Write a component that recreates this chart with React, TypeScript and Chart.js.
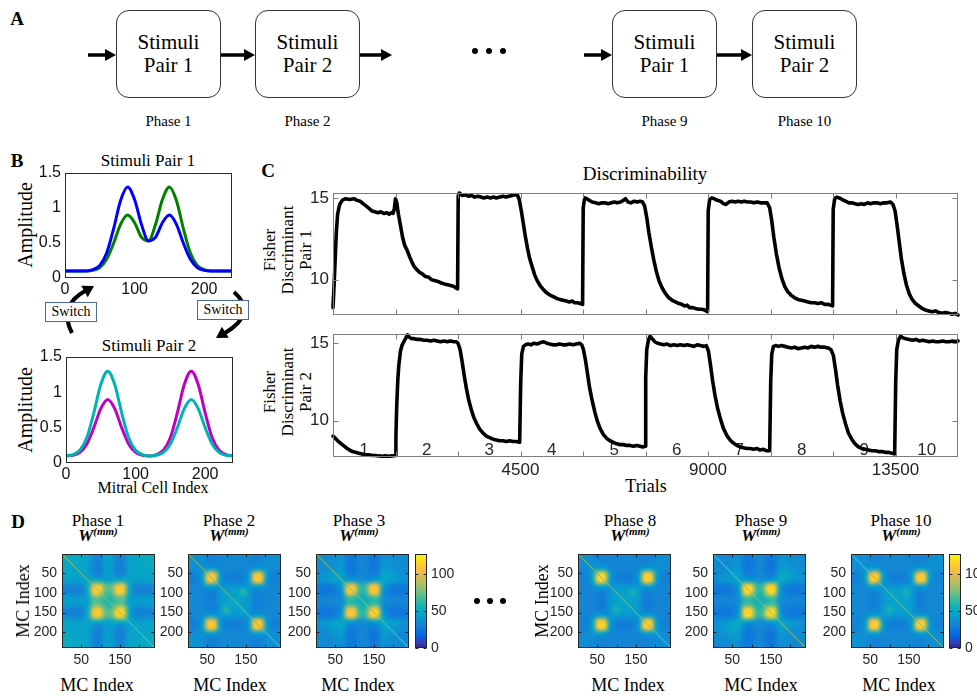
import React, { useEffect, useRef } from "react";
import { Chart, registerables } from "chart.js";

Chart.register(...registerables);

const SERIF = '"Liberation Serif", "Times New Roman", serif';
const SANS = '"Liberation Sans", Arial, sans-serif';

/* ---------------- B: stimulus amplitude profiles ---------------- */
const cellIndex = [0, 10, 20, 30, 40, 50, 60, 70, 80, 90, 100, 110, 120, 130, 140, 150, 160, 170, 180, 190, 200, 210, 220, 230, 240];
const pair1OdorA = [0.1, 0.1, 0.1, 0.1, 0.12, 0.18, 0.36, 0.71, 1.11, 1.3, 1.12, 0.76, 0.53, 0.58, 0.79, 0.9, 0.77, 0.5, 0.27, 0.15, 0.11, 0.1, 0.1, 0.1, 0.1];
const pair1OdorB = [0.1, 0.1, 0.1, 0.1, 0.11, 0.15, 0.27, 0.5, 0.77, 0.9, 0.79, 0.58, 0.53, 0.76, 1.12, 1.3, 1.11, 0.71, 0.36, 0.18, 0.12, 0.1, 0.1, 0.1, 0.1];
const pair2OdorA = [0.1, 0.12, 0.18, 0.36, 0.71, 1.11, 1.3, 1.11, 0.71, 0.36, 0.18, 0.12, 0.1, 0.11, 0.15, 0.27, 0.5, 0.77, 0.9, 0.77, 0.5, 0.27, 0.15, 0.11, 0.1];
const pair2OdorB = [0.1, 0.11, 0.15, 0.27, 0.5, 0.77, 0.9, 0.77, 0.5, 0.27, 0.15, 0.11, 0.1, 0.12, 0.18, 0.36, 0.71, 1.11, 1.3, 1.11, 0.71, 0.36, 0.18, 0.12, 0.1];
const amplitudeTicks = [0, 0.5, 1, 1.5];
const cellTicks = [0, 100, 200];

/* ---------------- C: Fisher discriminant over trials ---------------- */
const pair1Curve = [
  [0, 8.3], [25, 9.6], [55, 11.4], [80, 12.9], [110, 14.0], [160, 14.6], [220, 14.85], [300, 14.95], [400, 14.9], [500, 14.95],
  [580, 14.85], [650, 14.8], [720, 14.65], [800, 14.5], [870, 14.35], [940, 14.2], [1000, 14.15], [1080, 14.1], [1150, 14.15], [1220, 14.05],
  [1290, 14.1], [1350, 14.0], [1400, 14.1], [1440, 14.05], [1470, 14.3], [1500, 14.95], [1530, 14.7], [1570, 14.0], [1620, 13.3], [1670, 12.6],
  [1720, 12.1], [1780, 11.8], [1840, 11.4], [1890, 11.1], [1950, 10.8], [2000, 10.65], [2080, 10.45], [2150, 10.35], [2220, 10.2], [2300, 10.15],
  [2370, 10.0], [2440, 9.95], [2520, 9.9], [2600, 9.8], [2670, 9.75], [2750, 9.7], [2820, 9.65], [2890, 9.6], [2950, 9.5], [2990, 9.45],
  [3005, 15.1], [3030, 15.3], [3100, 15.15], [3180, 15.2], [3250, 15.1], [3330, 15.15], [3400, 15.05], [3480, 15.1], [3550, 15.05], [3620, 15.0],
  [3700, 15.05], [3780, 15.0], [3850, 15.05], [3920, 15.0], [4000, 15.05], [4080, 15.1], [4150, 15.05], [4220, 15.1], [4300, 15.15], [4370, 15.2],
  [4430, 15.15], [4470, 14.9], [4520, 14.2], [4570, 13.4], [4620, 12.6], [4670, 11.9], [4720, 11.3], [4780, 10.8], [4840, 10.3], [4900, 9.95],
  [4970, 9.65], [5050, 9.4], [5130, 9.2], [5220, 9.05], [5300, 8.95], [5380, 8.85], [5450, 8.8], [5520, 8.75], [5600, 8.7], [5670, 8.65],
  [5740, 8.7], [5800, 8.6], [5870, 8.6], [5930, 8.55], [5990, 8.5], [6005, 14.4], [6040, 15.0], [6090, 14.95], [6150, 14.85], [6220, 14.75],
  [6300, 14.7], [6380, 14.65], [6450, 14.7], [6530, 14.7], [6600, 14.65], [6680, 14.7], [6750, 14.75], [6820, 14.7], [6900, 14.75], [6970, 14.85],
  [7020, 14.95], [7080, 14.75], [7150, 14.7], [7230, 14.8], [7300, 14.75], [7370, 14.8], [7430, 14.75], [7480, 14.5], [7530, 13.8], [7580, 12.9],
  [7640, 12.0], [7700, 11.2], [7760, 10.5], [7830, 9.9], [7900, 9.5], [7980, 9.15], [8060, 8.9], [8140, 8.75], [8220, 8.65], [8300, 8.55],
  [8370, 8.5], [8440, 8.4], [8500, 8.45], [8560, 8.3], [8630, 8.3], [8700, 8.25], [8780, 8.2], [8850, 8.2], [8920, 8.15], [8990, 8.05],
  [9005, 14.2], [9040, 14.9], [9090, 15.0], [9150, 14.95], [9220, 14.85], [9300, 14.8], [9370, 14.65], [9430, 14.6], [9500, 14.75], [9580, 14.8],
  [9650, 14.75], [9720, 14.8], [9800, 14.75], [9870, 14.8], [9950, 14.75], [10030, 14.75], [10100, 14.7], [10180, 14.75], [10260, 14.7], [10340, 14.7],
  [10420, 14.7], [10480, 14.4], [10530, 13.6], [10580, 12.6], [10640, 11.6], [10700, 10.8], [10770, 10.1], [10840, 9.6], [10920, 9.25], [11000, 9.05],
  [11080, 8.9], [11160, 8.8], [11240, 8.75], [11320, 8.7], [11400, 8.65], [11480, 8.6], [11560, 8.6], [11640, 8.55], [11720, 8.6], [11800, 8.5],
  [11880, 8.5], [11950, 8.45], [11990, 8.4], [12005, 14.3], [12040, 14.95], [12090, 15.05], [12150, 15.0], [12220, 14.9], [12300, 14.8], [12380, 14.7],
  [12450, 14.7], [12530, 14.65], [12600, 14.6], [12680, 14.65], [12750, 14.6], [12830, 14.7], [12900, 14.65], [12980, 14.7], [13060, 14.7], [13140, 14.65],
  [13220, 14.7], [13300, 14.7], [13380, 14.75], [13440, 14.6], [13490, 14.2], [13540, 13.3], [13590, 12.3], [13640, 11.3], [13700, 10.4], [13760, 9.7],
  [13830, 9.15], [13900, 8.8], [13980, 8.55], [14060, 8.4], [14140, 8.25], [14220, 8.15], [14300, 8.1], [14380, 8.05], [14460, 8.1], [14540, 8.0],
  [14620, 7.95], [14700, 8.0], [14780, 7.95], [14860, 7.9], [14930, 7.95], [15000, 7.85],
];

const pair2Curve = [
  [0, 9.0], [60, 8.85], [130, 8.65], [200, 8.5], [270, 8.35], [340, 8.2], [400, 8.1], [470, 8.0], [540, 7.95], [620, 7.9],
  [700, 7.85], [780, 7.8], [860, 7.8], [940, 7.75], [1020, 7.75], [1100, 7.72], [1180, 7.7], [1260, 7.72], [1340, 7.7], [1420, 7.72],
  [1490, 7.75], [1510, 9.0], [1530, 11.0], [1555, 12.6], [1580, 13.6], [1620, 14.5], [1660, 14.9], [1700, 15.1], [1750, 15.35], [1790, 15.55],
  [1830, 15.4], [1880, 15.3], [1950, 15.3], [2020, 15.25], [2100, 15.25], [2180, 15.2], [2260, 15.2], [2340, 15.15], [2420, 15.2], [2500, 15.15],
  [2580, 15.1], [2660, 15.15], [2740, 15.1], [2820, 15.15], [2900, 15.1], [2960, 15.1], [3000, 15.0], [3050, 14.6], [3100, 13.8], [3150, 12.9],
  [3200, 12.1], [3260, 11.3], [3320, 10.7], [3380, 10.2], [3450, 9.8], [3520, 9.45], [3600, 9.2], [3680, 9.0], [3760, 8.9], [3840, 8.8],
  [3920, 8.75], [4000, 8.7], [4080, 8.7], [4160, 8.65], [4240, 8.7], [4320, 8.65], [4400, 8.65], [4480, 8.6], [4505, 12.5], [4530, 14.3],
  [4570, 14.8], [4620, 14.9], [4680, 14.95], [4750, 14.9], [4820, 15.0], [4900, 14.95], [4980, 15.05], [5060, 15.1], [5130, 15.0], [5200, 14.95],
  [5280, 14.9], [5360, 14.9], [5440, 14.95], [5520, 14.9], [5600, 14.9], [5680, 14.95], [5760, 14.9], [5840, 14.95], [5920, 15.0], [5970, 14.9],
  [6010, 14.6], [6060, 13.9], [6110, 13.0], [6160, 12.1], [6220, 11.3], [6280, 10.6], [6340, 10.0], [6410, 9.5], [6490, 9.1], [6570, 8.85],
  [6650, 8.7], [6730, 8.6], [6810, 8.5], [6890, 8.45], [6970, 8.45], [7050, 8.4], [7130, 8.4], [7210, 8.35], [7290, 8.4], [7370, 8.35],
  [7440, 8.3], [7490, 8.35], [7505, 12.8], [7530, 14.6], [7570, 15.2], [7610, 15.45], [7660, 15.3], [7720, 15.1], [7790, 15.0], [7860, 14.95],
  [7940, 14.9], [8020, 14.95], [8100, 14.85], [8180, 14.9], [8260, 14.85], [8340, 14.9], [8420, 14.85], [8500, 14.9], [8580, 14.85], [8660, 14.8],
  [8740, 14.9], [8820, 14.85], [8900, 14.8], [8960, 14.85], [9010, 14.5], [9060, 13.6], [9110, 12.6], [9170, 11.6], [9230, 10.8], [9300, 10.1],
  [9370, 9.5], [9450, 9.05], [9530, 8.75], [9610, 8.55], [9690, 8.4], [9770, 8.3], [9850, 8.25], [9930, 8.2], [10010, 8.2], [10090, 8.15],
  [10170, 8.2], [10250, 8.1], [10330, 8.15], [10410, 8.05], [10480, 8.05], [10505, 12.5], [10530, 14.3], [10570, 14.8], [10620, 14.85], [10690, 14.8],
  [10760, 14.85], [10840, 14.8], [10920, 14.75], [11000, 14.7], [11080, 14.75], [11160, 14.65], [11240, 14.7], [11320, 14.75], [11400, 14.7], [11480, 14.8],
  [11560, 14.75], [11640, 14.8], [11720, 14.75], [11800, 14.75], [11880, 14.7], [11950, 14.6], [12010, 14.2], [12060, 13.3], [12110, 12.3], [12170, 11.3],
  [12230, 10.5], [12300, 9.8], [12370, 9.2], [12450, 8.8], [12530, 8.5], [12610, 8.3], [12690, 8.2], [12770, 8.15], [12850, 8.1], [12930, 8.05],
  [13010, 8.05], [13090, 8.0], [13170, 8.0], [13250, 7.95], [13330, 7.95], [13410, 7.9], [13480, 7.85], [13505, 12.5], [13530, 14.6], [13570, 15.2],
  [13620, 15.45], [13680, 15.35], [13750, 15.3], [13830, 15.25], [13910, 15.2], [13990, 15.25], [14070, 15.15], [14150, 15.2], [14230, 15.15], [14310, 15.1],
  [14390, 15.15], [14470, 15.1], [14550, 15.1], [14630, 15.15], [14710, 15.1], [14790, 15.1], [14870, 15.15], [14940, 15.1], [15000, 15.15],
];

const phaseBoundaries = [1500, 3000, 4500, 6000, 7500, 9000, 10500, 12000, 13500];
const trialTicks = [4500, 9000, 13500];
const fisherTicks = [10, 15];
const phaseNumbers = [1, 2, 3, 4, 5, 6, 7, 8, 9, 10];
const TRIALS_PER_PHASE = 1500;

/* ---------------- D: mitral-mitral weight matrices (16 x 16 blocks of 15 cells) ---------------- */
const W_PHASE1 = [
  [52, 50, 49, 48, 46, 33, 32, 44, 44, 32, 33, 46, 48, 49, 50, 52],
  [50, 50, 48, 47, 45, 32, 31, 43, 43, 31, 32, 45, 47, 48, 50, 50],
  [49, 48, 47, 46, 44, 31, 30, 42, 42, 30, 31, 44, 46, 47, 48, 49],
  [48, 47, 46, 46, 45, 33, 32, 42, 42, 32, 33, 45, 46, 46, 47, 48],
  [46, 45, 44, 45, 47, 54, 52, 47, 47, 52, 54, 47, 45, 44, 45, 46],
  [33, 32, 31, 33, 54, 108, 112, 72, 72, 108, 110, 54, 33, 31, 32, 33],
  [32, 31, 30, 32, 52, 112, 110, 70, 70, 110, 112, 52, 32, 30, 31, 32],
  [44, 43, 42, 42, 47, 72, 70, 60, 60, 70, 72, 47, 42, 42, 43, 44],
  [44, 43, 42, 42, 47, 72, 70, 60, 60, 70, 72, 47, 42, 42, 43, 44],
  [32, 31, 30, 32, 52, 108, 110, 70, 70, 112, 114, 52, 32, 30, 31, 32],
  [33, 32, 31, 33, 54, 110, 112, 72, 72, 114, 116, 54, 33, 31, 32, 33],
  [46, 45, 44, 45, 47, 54, 52, 47, 47, 52, 54, 47, 45, 44, 45, 46],
  [48, 47, 46, 46, 45, 33, 32, 42, 42, 32, 33, 45, 46, 46, 47, 48],
  [49, 48, 47, 46, 44, 31, 30, 42, 42, 30, 31, 44, 46, 47, 48, 49],
  [50, 50, 48, 47, 45, 32, 31, 43, 43, 31, 32, 45, 47, 48, 50, 50],
  [52, 50, 49, 48, 46, 33, 32, 44, 44, 32, 33, 46, 48, 49, 50, 52],
];
const W_PHASE2 = [
  [38, 37, 36, 30, 29, 33, 34, 34, 34, 34, 33, 29, 30, 36, 37, 38],
  [37, 37, 36, 31, 30, 33, 33, 33, 33, 33, 33, 30, 31, 36, 37, 37],
  [36, 36, 38, 44, 42, 35, 33, 33, 33, 33, 35, 42, 44, 38, 36, 36],
  [30, 31, 44, 106, 110, 44, 30, 29, 29, 30, 44, 106, 108, 44, 31, 30],
  [29, 30, 42, 110, 108, 42, 30, 29, 29, 30, 42, 108, 110, 42, 30, 29],
  [33, 33, 35, 44, 42, 40, 40, 40, 40, 40, 40, 42, 44, 35, 33, 33],
  [34, 33, 33, 30, 30, 40, 46, 44, 46, 62, 42, 30, 30, 33, 33, 34],
  [34, 33, 33, 29, 29, 40, 44, 48, 46, 46, 40, 29, 29, 33, 33, 34],
  [34, 33, 33, 29, 29, 40, 46, 46, 48, 44, 40, 29, 29, 33, 33, 34],
  [34, 33, 33, 30, 30, 40, 62, 46, 44, 46, 40, 30, 30, 33, 33, 34],
  [33, 33, 35, 44, 42, 40, 42, 40, 40, 40, 40, 42, 44, 35, 33, 33],
  [29, 30, 42, 106, 108, 42, 30, 29, 29, 30, 42, 108, 110, 42, 30, 29],
  [30, 31, 44, 108, 110, 44, 30, 29, 29, 30, 44, 110, 108, 44, 31, 30],
  [36, 36, 38, 44, 42, 35, 33, 33, 33, 33, 35, 42, 44, 38, 36, 36],
  [37, 37, 36, 31, 30, 33, 33, 33, 33, 33, 33, 30, 31, 36, 37, 37],
  [38, 37, 36, 30, 29, 33, 34, 34, 34, 34, 33, 29, 30, 36, 37, 38],
];
const W_PHASE3 = [
  [36, 35, 34, 36, 37, 27, 26, 33, 33, 26, 27, 37, 36, 34, 35, 36],
  [35, 36, 35, 38, 39, 26, 25, 32, 32, 25, 26, 39, 38, 35, 36, 35],
  [34, 35, 37, 41, 42, 26, 25, 32, 32, 25, 26, 42, 41, 37, 35, 34],
  [36, 38, 41, 45, 45, 30, 28, 33, 33, 28, 30, 45, 46, 41, 38, 36],
  [37, 39, 42, 45, 48, 46, 40, 36, 36, 40, 46, 48, 46, 42, 39, 37],
  [27, 26, 26, 30, 46, 106, 110, 64, 64, 106, 108, 46, 30, 26, 26, 27],
  [26, 25, 25, 28, 40, 110, 108, 62, 62, 108, 110, 40, 28, 25, 25, 26],
  [33, 32, 32, 33, 36, 64, 62, 54, 54, 62, 64, 36, 33, 32, 32, 33],
  [33, 32, 32, 33, 36, 64, 62, 54, 54, 62, 64, 36, 33, 32, 32, 33],
  [26, 25, 25, 28, 40, 106, 108, 62, 62, 110, 112, 40, 28, 25, 25, 26],
  [27, 26, 26, 30, 46, 108, 110, 64, 64, 112, 114, 46, 30, 26, 26, 27],
  [37, 39, 42, 45, 48, 46, 40, 36, 36, 40, 46, 48, 45, 42, 39, 37],
  [36, 38, 41, 46, 46, 30, 28, 33, 33, 28, 30, 45, 45, 41, 38, 36],
  [34, 35, 37, 41, 42, 26, 25, 32, 32, 25, 26, 42, 41, 37, 35, 34],
  [35, 36, 35, 38, 39, 26, 25, 32, 32, 25, 26, 39, 38, 35, 36, 35],
  [36, 35, 34, 36, 37, 27, 26, 33, 33, 26, 27, 37, 36, 34, 35, 36],
];
const W_PHASE8 = [
  [37, 36, 35, 30, 29, 32, 33, 33, 33, 33, 32, 29, 30, 35, 36, 37],
  [36, 36, 36, 32, 31, 32, 32, 32, 32, 32, 32, 31, 32, 36, 36, 36],
  [35, 36, 40, 48, 45, 35, 32, 32, 32, 32, 35, 45, 46, 38, 36, 35],
  [30, 32, 48, 112, 116, 46, 30, 28, 28, 30, 44, 110, 112, 44, 32, 30],
  [29, 31, 45, 116, 112, 44, 30, 28, 28, 30, 42, 112, 114, 42, 31, 29],
  [32, 32, 35, 46, 44, 40, 40, 40, 40, 40, 40, 42, 44, 35, 32, 32],
  [33, 32, 32, 30, 30, 40, 46, 44, 46, 58, 42, 30, 30, 32, 32, 33],
  [33, 32, 32, 28, 28, 40, 44, 48, 46, 46, 40, 28, 28, 32, 32, 33],
  [33, 32, 32, 28, 28, 40, 46, 46, 48, 44, 40, 28, 28, 32, 32, 33],
  [33, 32, 32, 30, 30, 40, 58, 46, 44, 46, 40, 30, 30, 32, 32, 33],
  [32, 32, 35, 44, 42, 40, 42, 40, 40, 40, 40, 42, 44, 35, 32, 32],
  [29, 31, 45, 110, 112, 42, 30, 28, 28, 30, 42, 110, 112, 42, 31, 29],
  [30, 32, 46, 112, 114, 44, 30, 28, 28, 30, 44, 112, 110, 44, 32, 30],
  [35, 36, 38, 44, 42, 35, 32, 32, 32, 32, 35, 42, 44, 38, 36, 35],
  [36, 36, 36, 32, 31, 32, 32, 32, 32, 32, 32, 31, 32, 36, 36, 36],
  [37, 36, 35, 30, 29, 32, 33, 33, 33, 33, 32, 29, 30, 35, 36, 37],
];
const W_PHASE9 = [
  [35, 34, 34, 35, 36, 27, 26, 33, 33, 26, 27, 36, 37, 35, 34, 35],
  [34, 35, 35, 37, 38, 26, 25, 32, 32, 25, 26, 38, 40, 37, 35, 34],
  [34, 35, 37, 40, 41, 26, 25, 32, 32, 25, 26, 41, 44, 40, 37, 34],
  [35, 37, 40, 44, 44, 30, 28, 33, 33, 28, 30, 46, 50, 44, 40, 37],
  [36, 38, 41, 44, 47, 47, 41, 37, 37, 41, 47, 50, 46, 41, 38, 36],
  [27, 26, 26, 30, 47, 112, 116, 66, 66, 112, 114, 47, 30, 26, 26, 27],
  [26, 25, 25, 28, 41, 116, 114, 64, 64, 114, 116, 41, 28, 25, 25, 26],
  [33, 32, 32, 33, 37, 66, 64, 56, 56, 64, 66, 37, 33, 32, 32, 33],
  [33, 32, 32, 33, 37, 66, 64, 56, 56, 64, 66, 37, 33, 32, 32, 33],
  [26, 25, 25, 28, 41, 112, 114, 64, 64, 114, 116, 41, 28, 25, 25, 26],
  [27, 26, 26, 30, 47, 114, 116, 66, 66, 116, 118, 47, 30, 26, 26, 27],
  [36, 38, 41, 46, 50, 47, 41, 37, 37, 41, 47, 47, 44, 41, 38, 36],
  [37, 40, 44, 50, 46, 30, 28, 33, 33, 28, 30, 44, 44, 40, 37, 35],
  [35, 37, 40, 44, 41, 26, 25, 32, 32, 25, 26, 41, 40, 37, 35, 34],
  [34, 35, 37, 40, 38, 26, 25, 32, 32, 25, 26, 38, 37, 35, 35, 34],
  [35, 34, 34, 37, 36, 27, 26, 33, 33, 26, 27, 36, 35, 34, 34, 35],
];
const W_PHASE10 = [
  [38, 37, 36, 31, 30, 33, 34, 34, 34, 34, 33, 30, 31, 36, 37, 38],
  [37, 37, 36, 32, 31, 33, 33, 33, 33, 33, 33, 31, 32, 36, 37, 37],
  [36, 36, 39, 45, 43, 35, 33, 33, 33, 33, 35, 43, 45, 39, 36, 36],
  [31, 32, 45, 108, 112, 45, 31, 29, 29, 31, 45, 108, 110, 45, 32, 31],
  [30, 31, 43, 112, 108, 43, 31, 29, 29, 31, 43, 110, 112, 43, 31, 30],
  [33, 33, 35, 45, 43, 41, 41, 40, 40, 41, 41, 43, 45, 35, 33, 33],
  [34, 33, 33, 31, 31, 41, 46, 45, 47, 58, 43, 31, 31, 33, 33, 34],
  [34, 33, 33, 29, 29, 40, 45, 48, 46, 47, 40, 29, 29, 33, 33, 34],
  [34, 33, 33, 29, 29, 40, 47, 46, 48, 45, 40, 29, 29, 33, 33, 34],
  [34, 33, 33, 31, 31, 41, 58, 47, 45, 46, 41, 31, 31, 33, 33, 34],
  [33, 33, 35, 45, 43, 41, 43, 40, 40, 41, 41, 43, 45, 35, 33, 33],
  [30, 31, 43, 108, 110, 43, 31, 29, 29, 31, 43, 110, 112, 43, 31, 30],
  [31, 32, 45, 110, 112, 45, 31, 29, 29, 31, 45, 112, 110, 45, 32, 31],
  [36, 36, 39, 45, 43, 35, 33, 33, 33, 33, 35, 43, 45, 39, 36, 36],
  [37, 37, 36, 32, 31, 33, 33, 33, 33, 33, 33, 31, 32, 36, 37, 37],
  [38, 37, 36, 31, 30, 33, 34, 34, 34, 34, 33, 30, 31, 36, 37, 38],
];
const weightPhases = [1, 2, 3, 8, 9, 10];
const weightMatrices = [W_PHASE1, W_PHASE2, W_PHASE3, W_PHASE8, W_PHASE9, W_PHASE10];
const selfWeights = [80, 78, 80, 78, 80, 78];
const mcTicks = [50, 100, 150, 200];
const mcLabelsX = [50, 150];
const colorTicks = [0, 50, 100];
const N_CELLS = 240;
const CMAX = 127;

/* ---------------- parula colormap ---------------- */
const PARULA_STOPS = [0, 4, 8, 12, 16, 20, 24, 28, 32, 36, 40, 44, 48, 52, 56, 60, 63];
const PARULA_RGB = [
  [53, 42, 135], [50, 67, 186], [3, 99, 225], [13, 117, 220], [20, 133, 212], [9, 152, 209],
  [6, 167, 198], [21, 177, 180], [56, 185, 158], [101, 190, 134], [146, 191, 115], [183, 189, 100],
  [217, 186, 86], [248, 187, 68], [252, 206, 46], [245, 228, 29], [249, 251, 14],
];
function parula(t: number): number[] {
  const p = Math.max(0, Math.min(1, t)) * 63;
  let k = 0;
  while (k < PARULA_STOPS.length - 2 && p > PARULA_STOPS[k + 1]) k++;
  const f = (p - PARULA_STOPS[k]) / (PARULA_STOPS[k + 1] - PARULA_STOPS[k]);
  const a = PARULA_RGB[k];
  const b = PARULA_RGB[k + 1];
  return [0, 1, 2].map((i) => Math.round(a[i] + (b[i] - a[i]) * f));
}
const parulaCss = (t: number) => `rgb(${parula(t).join(",")})`;

/* ---------------- plugins ---------------- */
type FrameOpts = {
  color: string;
  tick: number;
  mirror?: boolean;
  xTicks?: number[];
  yTicks?: number[];
  xLabels?: [number, string][];
  yLabels?: [number, string][];
  yRight?: boolean;
  font: string;
  labelColor: string;
  xGap: number;
  yGap: number;
  inner?: { items: [number, string][]; font: string; color: string; lift: number };
};

function framePlugin(o: FrameOpts) {
  return {
    id: "frame",
    beforeDatasetsDraw(chart: any) {
      if (!o.inner) return;
      const { ctx, chartArea: a, scales } = chart;
      ctx.save();
      ctx.font = o.inner.font;
      ctx.fillStyle = o.inner.color;
      ctx.textAlign = "center";
      ctx.textBaseline = "alphabetic";
      o.inner.items.forEach(([v, t]) => ctx.fillText(t, scales.x.getPixelForValue(v), a.bottom - o.inner!.lift));
      ctx.restore();
    },
    afterDatasetsDraw(chart: any) {
      const { ctx, chartArea: a, scales } = chart;
      const x = scales.x;
      const y = scales.y;
      const L = Math.round(a.left) + 0.5;
      const R = Math.round(a.right) - 0.5;
      const T = Math.round(a.top) + 0.5;
      const B = Math.round(a.bottom) - 0.5;
      ctx.save();
      ctx.strokeStyle = o.color;
      ctx.lineWidth = 1;
      ctx.beginPath();
      if (o.tick > 0) {
        (o.xTicks || []).forEach((v) => {
          const px = Math.round(x.getPixelForValue(v)) + 0.5;
          ctx.moveTo(px, B);
          ctx.lineTo(px, B - o.tick);
          if (o.mirror) {
            ctx.moveTo(px, T);
            ctx.lineTo(px, T + o.tick);
          }
        });
        (o.yTicks || []).forEach((v) => {
          const py = Math.round(y.getPixelForValue(v)) + 0.5;
          ctx.moveTo(L, py);
          ctx.lineTo(L + o.tick, py);
          if (o.mirror) {
            ctx.moveTo(R, py);
            ctx.lineTo(R - o.tick, py);
          }
        });
      }
      ctx.stroke();
      ctx.strokeRect(L, T, R - L, B - T);
      ctx.fillStyle = o.labelColor;
      ctx.font = o.font;
      ctx.textAlign = "center";
      ctx.textBaseline = "top";
      (o.xLabels || []).forEach(([v, t]) => ctx.fillText(t, x.getPixelForValue(v), a.bottom + o.xGap));
      ctx.textBaseline = "middle";
      ctx.textAlign = o.yRight ? "left" : "right";
      const lx = o.yRight ? a.right + o.yGap : a.left - o.yGap;
      (o.yLabels || []).forEach(([v, t]) => ctx.fillText(t, lx, y.getPixelForValue(v)));
      ctx.restore();
    },
  };
}

function heatPlugin(matrix: number[][]) {
  return {
    id: "heat",
    beforeDatasetsDraw(chart: any) {
      const { ctx, chartArea: a, scales } = chart;
      const n = matrix.length;
      const img = document.createElement("canvas");
      img.width = n;
      img.height = n;
      const ictx = img.getContext("2d")!;
      const pix = ictx.createImageData(n, n);
      matrix.forEach((row, r) =>
        row.forEach((v, c) => {
          const [R, G, B] = parula(v / CMAX);
          const k = (r * n + c) * 4;
          pix.data[k] = R;
          pix.data[k + 1] = G;
          pix.data[k + 2] = B;
          pix.data[k + 3] = 255;
        })
      );
      ictx.putImageData(pix, 0, 0);
      const left = scales.x.getPixelForValue(0.5);
      const right = scales.x.getPixelForValue(N_CELLS + 0.5);
      const top = scales.y.getPixelForValue(0.5);
      const bottom = scales.y.getPixelForValue(N_CELLS + 0.5);
      ctx.save();
      ctx.beginPath();
      ctx.rect(a.left, a.top, a.width, a.height);
      ctx.clip();
      ctx.imageSmoothingEnabled = true;
      ctx.imageSmoothingQuality = "high";
      ctx.drawImage(img, left, Math.min(top, bottom), right - left, Math.abs(bottom - top));
      ctx.restore();
    },
  };
}

const colorbarPlugin = {
  id: "colorbar",
  beforeDatasetsDraw(chart: any) {
    const { ctx, chartArea: a, scales } = chart;
    for (let py = Math.floor(a.top); py < a.bottom; py++) {
      const v = scales.y.getValueForPixel(py + 0.5);
      ctx.fillStyle = parulaCss(v / CMAX);
      ctx.fillRect(a.left, py, a.width, 1);
    }
  },
};

/* ---------------- chart helpers ---------------- */
type Pad = { l: number; t: number; r: number; b: number };
type Frame = { left: number; top: number; w: number; h: number };

function ChartBox({ frame, pad, make }: { frame: Frame; pad: Pad; make: (padding: any) => any }) {
  const ref = useRef<HTMLCanvasElement>(null);
  const width = frame.w + pad.l + pad.r;
  const height = frame.h + pad.t + pad.b;
  useEffect(() => {
    const chart = new Chart(ref.current as HTMLCanvasElement, make({ left: pad.l, top: pad.t, right: pad.r, bottom: pad.b }));
    return () => chart.destroy();
  }, []);
  return (
    <canvas
      ref={ref}
      width={width}
      height={height}
      style={{ position: "absolute", left: frame.left - pad.l, top: frame.top - pad.t, width, height }}
    />
  );
}

const baseOptions = (padding: any, xr: [number, number], yr: [number, number], yReverse = false) => ({
  responsive: false,
  animation: false,
  events: [],
  layout: { padding },
  scales: {
    x: { type: "linear", min: xr[0], max: xr[1], display: false },
    y: { type: "linear", min: yr[0], max: yr[1], reverse: yReverse, display: false },
  },
  plugins: { legend: { display: false }, tooltip: { enabled: false }, title: { display: false } },
});

const toXY = (xs: number[], ys: number[]) => xs.map((x, i) => ({ x, y: ys[i] }));
const pairsXY = (pts: number[][]) => pts.map(([x, y]) => ({ x, y }));

function stimulusChart(a: number[], b: number[], colA: string, colB: string) {
  return (padding: any) => ({
    type: "line",
    data: {
      datasets: [
        { data: toXY(cellIndex, a), borderColor: colA, borderWidth: 3, pointRadius: 0, cubicInterpolationMode: "monotone", clip: 4 },
        { data: toXY(cellIndex, b), borderColor: colB, borderWidth: 3, pointRadius: 0, cubicInterpolationMode: "monotone", clip: 4 },
      ],
    },
    options: baseOptions(padding, [0, 240], [0, 1.5]),
    plugins: [
      framePlugin({
        color: "#2a2a2a",
        tick: 0,
        xLabels: cellTicks.map((v) => [v, String(v)] as [number, string]),
        yLabels: amplitudeTicks.map((v) => [v, String(v)] as [number, string]),
        font: `16px ${SANS}`,
        labelColor: "#111",
        xGap: 4,
        yGap: 4,
      }),
    ],
  });
}

function fisherChart(curve: number[][], yr: [number, number], bottomAxis: boolean) {
  return (padding: any) => ({
    type: "line",
    data: {
      datasets: [
        {
          data: pairsXY(curve),
          borderColor: "#000",
          borderWidth: 3.6,
          pointRadius: 0,
          tension: 0,
          borderJoinStyle: "round",
          borderCapStyle: "round",
          clip: 4,
        },
      ],
    },
    options: baseOptions(padding, [0, TRIALS_PER_PHASE * 10], yr),
    plugins: [
      framePlugin({
        color: "#7d7d7d",
        tick: 5,
        mirror: true,
        xTicks: phaseBoundaries,
        yTicks: fisherTicks,
        xLabels: bottomAxis ? trialTicks.map((v) => [v, String(v)] as [number, string]) : [],
        yLabels: fisherTicks.map((v) => [v, String(v)] as [number, string]),
        font: `17px ${SANS}`,
        labelColor: "#222",
        xGap: 5,
        yGap: 4,
        inner: bottomAxis
          ? {
              items: phaseNumbers.map((k) => [(k - 0.5) * TRIALS_PER_PHASE, String(k)] as [number, string]),
              font: `17px ${SANS}`,
              color: "#2a2a2a",
              lift: 2,
            }
          : undefined,
      }),
    ],
  });
}

function weightChart(matrix: number[][], self: number) {
  return (padding: any) => ({
    type: "scatter",
    data: {
      datasets: [
        {
          data: [
            { x: 0.5, y: 0.5 },
            { x: N_CELLS + 0.5, y: N_CELLS + 0.5 },
          ],
          showLine: true,
          borderColor: parulaCss(self / CMAX),
          borderWidth: 1,
          pointRadius: 0,
        },
      ],
    },
    options: baseOptions(padding, [0.5, N_CELLS + 0.5], [0.5, N_CELLS + 0.5], true),
    plugins: [
      heatPlugin(matrix),
      framePlugin({
        color: "#262626",
        tick: 3,
        mirror: true,
        xTicks: mcTicks,
        yTicks: mcTicks,
        xLabels: mcLabelsX.map((v) => [v, String(v)] as [number, string]),
        yLabels: mcTicks.map((v) => [v, String(v)] as [number, string]),
        font: `14px ${SANS}`,
        labelColor: "#262626",
        xGap: 5,
        yGap: 5,
      }),
    ],
  });
}

function colorbarChart() {
  return (padding: any) => ({
    type: "scatter",
    data: { datasets: [] },
    options: baseOptions(padding, [0, 1], [0, CMAX]),
    plugins: [
      colorbarPlugin,
      framePlugin({
        color: "#262626",
        tick: 3,
        mirror: true,
        yTicks: colorTicks,
        yLabels: colorTicks.map((v) => [v, String(v)] as [number, string]),
        yRight: true,
        font: `14px ${SANS}`,
        labelColor: "#262626",
        xGap: 0,
        yGap: 4,
      }),
    ],
  });
}

/* ---------------- text and diagram pieces ---------------- */
function Txt({ x, y, size, children, family = SERIF, weight = 400, rotate = 0, lh, color = "#000" }: any) {
  return (
    <div
      style={{
        position: "absolute",
        left: x,
        top: y,
        transform: `translate(-50%, -50%) rotate(${rotate}deg)`,
        fontFamily: family,
        fontSize: size,
        fontWeight: weight,
        color,
        whiteSpace: "nowrap",
        lineHeight: lh ? `${lh}px` : 1,
        textAlign: "center",
      }}
    >
      {children}
    </div>
  );
}

function headPoints(tx: number, ty: number, dx: number, dy: number, len = 11, half = 6) {
  const n = Math.hypot(dx, dy);
  const ux = dx / n;
  const uy = dy / n;
  const bx = tx - ux * len;
  const by = ty - uy * len;
  return `${tx},${ty} ${bx - uy * half},${by + ux * half} ${bx + uy * half},${by - ux * half}`;
}

const flowBoxes = [
  { left: 116, lines: ["Stimuli", "Pair 1"], phase: "Phase 1" },
  { left: 255, lines: ["Stimuli", "Pair 2"], phase: "Phase 2" },
  { left: 612, lines: ["Stimuli", "Pair 1"], phase: "Phase 9" },
  { left: 752, lines: ["Stimuli", "Pair 2"], phase: "Phase 10" },
];
const BOX_W = 105;
const flowArrows = [
  [88, 116],
  [220, 255],
  [360, 392],
  [584, 612],
  [717, 752],
];

const heatFrames = [
  { left: 62, titleX: 98, labelX: 97 },
  { left: 188, titleX: 229, labelX: 230 },
  { left: 316, titleX: 359, labelX: 358 },
  { left: 578, titleX: 630, labelX: 628 },
  { left: 713, titleX: 761, labelX: 761 },
  { left: 851, titleX: 901, labelX: 899 },
];
const HEAT_TOP = 554;
const HEAT_W = 93;
const HEAT_H = 94;

export default function App() {
  const letter = (t: string, x: number, y: number) => (
    <Txt x={x} y={y} size={19} weight={700}>
      {t}
    </Txt>
  );
  return (
    <div style={{ position: "absolute", left: 0, top: 0, width: 977, height: 696, overflow: "hidden", background: "#fff" }}>
      <svg width={977} height={696} style={{ position: "absolute", left: 0, top: 0 }}>
        {flowArrows.map(([a, b], i) => (
          <g key={i}>
            <line x1={a} y1={55} x2={b - 9} y2={55} stroke="#000" strokeWidth={3.5} />
            <polygon points={headPoints(b, 55, 1, 0, 11, 6)} fill="#000" />
          </g>
        ))}
        {[475, 489, 503].map((cx) => (
          <circle key={cx} cx={cx} cy={51} r={3} fill="#000" />
        ))}
        <path d="M 72 333 Q 58 306 85 291" fill="none" stroke="#000" strokeWidth={4} />
        <polygon points={headPoints(94, 286, 26, -15, 11, 6.5)} fill="#000" />
        <path d="M 234 292 Q 258 313 225 333" fill="none" stroke="#000" strokeWidth={4} />
        <polygon points={headPoints(216, 338, -32, 20, 11, 6.5)} fill="#000" />
        {[477, 490, 503].map((cx) => (
          <circle key={cx} cx={cx} cy={601} r={3} fill="#000" />
        ))}
      </svg>

      {/* A: training schedule */}
      {letter("A", 17, 18)}
      {flowBoxes.map((b, i) => (
        <React.Fragment key={i}>
          <div
            style={{
              position: "absolute",
              left: b.left,
              top: 10,
              width: BOX_W,
              height: 88,
              boxSizing: "border-box",
              border: "1px solid #333",
              borderRadius: 13,
              background: "#fff",
            }}
          />
          <Txt x={b.left + BOX_W / 2} y={42} size={21}>
            {b.lines[0]}
          </Txt>
          <Txt x={b.left + BOX_W / 2} y={65} size={21}>
            {b.lines[1]}
          </Txt>
          <Txt x={b.left + BOX_W / 2} y={121} size={15}>
            {b.phase}
          </Txt>
        </React.Fragment>
      ))}

      {/* B: stimuli */}
      {letter("B", 17, 160)}
      <Txt x={148} y={160} size={17}>
        Stimuli Pair 1
      </Txt>
      <Txt x={149} y={345} size={17}>
        Stimuli Pair 2
      </Txt>
      <Txt x={25} y={225} size={20} rotate={-90}>
        Amplitude
      </Txt>
      <Txt x={25} y={410} size={20} rotate={-90}>
        Amplitude
      </Txt>
      <Txt x={153} y={488} size={16}>
        Mitral Cell Index
      </Txt>
      <ChartBox frame={{ left: 65, top: 173, w: 167, h: 105 }} pad={{ l: 32, t: 12, r: 8, b: 22 }} make={stimulusChart(pair1OdorA, pair1OdorB, "#0000ff", "#008000")} />
      <ChartBox frame={{ left: 66, top: 357, w: 167, h: 106 }} pad={{ l: 32, t: 12, r: 8, b: 22 }} make={stimulusChart(pair2OdorA, pair2OdorB, "#00b3b3", "#bf00bf")} />
      {[
        { left: 45, top: 302, w: 52 },
        { left: 197, top: 300, w: 52 },
      ].map((s, i) => (
        <div
          key={i}
          style={{
            position: "absolute",
            left: s.left,
            top: s.top,
            width: s.w,
            height: 20,
            boxSizing: "border-box",
            border: "1px solid #4a6aa0",
            background: "#fff",
            fontFamily: SERIF,
            fontSize: 14,
            lineHeight: "18px",
            textAlign: "center",
          }}
        >
          Switch
        </div>
      ))}

      {/* C: discriminability */}
      {letter("C", 268, 170)}
      <Txt x={645} y={173} size={19}>
        Discriminability
      </Txt>
      <Txt x={288} y={250} size={17} rotate={-90} lh={18}>
        Fisher
        <br />
        Discriminant
        <br />
        Pair 1
      </Txt>
      <Txt x={288} y={392} size={17} rotate={-90} lh={18}>
        Fisher
        <br />
        Discriminant
        <br />
        Pair 2
      </Txt>
      <Txt x={646} y={486} size={18}>
        Trials
      </Txt>
      <ChartBox frame={{ left: 333, top: 193, w: 625, h: 122 }} pad={{ l: 35, t: 8, r: 12, b: 8 }} make={fisherChart(pair1Curve, [7.85, 15.3], false)} />
      <ChartBox frame={{ left: 333, top: 334, w: 625, h: 123 }} pad={{ l: 35, t: 8, r: 12, b: 26 }} make={fisherChart(pair2Curve, [7.65, 15.6], true)} />

      {/* D: weight matrices */}
      {letter("D", 18, 521)}
      {heatFrames.map((f, i) => (
        <React.Fragment key={i}>
          <Txt x={f.titleX} y={520} size={17}>
            {`Phase ${weightPhases[i]}`}
          </Txt>
          <Txt x={f.titleX} y={535} size={17} weight={700}>
            <i>W</i>
            <sup style={{ fontSize: 11, fontStyle: "italic", verticalAlign: 6 }}>(mm)</sup>
          </Txt>
          <Txt x={f.labelX} y={685} size={18}>
            MC Index
          </Txt>
          <ChartBox
            frame={{ left: f.left, top: HEAT_TOP, w: HEAT_W, h: HEAT_H }}
            pad={{ l: 33, t: 4, r: 4, b: 22 }}
            make={weightChart(weightMatrices[i], selfWeights[i])}
          />
        </React.Fragment>
      ))}
      <Txt x={23} y={601} size={18} rotate={-90}>
        MC Index
      </Txt>
      <Txt x={542} y={601} size={18} rotate={-90}>
        MC Index
      </Txt>
      <ChartBox frame={{ left: 415, top: HEAT_TOP, w: 12, h: HEAT_H }} pad={{ l: 4, t: 4, r: 36, b: 6 }} make={colorbarChart()} />
      <ChartBox frame={{ left: 949, top: HEAT_TOP, w: 12, h: HEAT_H }} pad={{ l: 4, t: 4, r: 36, b: 6 }} make={colorbarChart()} />
    </div>
  );
}
